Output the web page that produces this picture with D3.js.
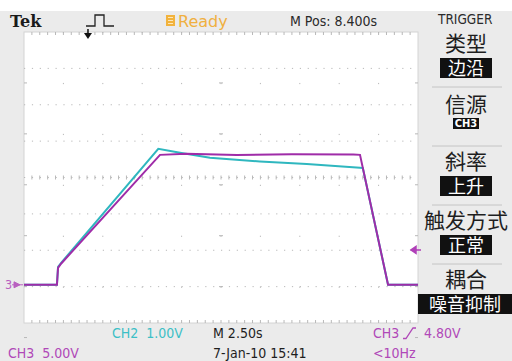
<!DOCTYPE html>
<html>
<head>
<meta charset="utf-8">
<script src="https://cdn.jsdelivr.net/npm/d3@7"></script>
<style>
body { margin: 0; background: #fff; }
svg { display: block; }
</style>
</head>
<body>
<div class="scope-container"></div>
<script>
// seconds from the left edge of the screen (10 div x 2.5 s) and volts
var ch3Time = [0, 2.09, 2.16, 2.35, 8.63, 10.3, 13.5, 17.0, 20.9, 21.32, 23.10, 25];
var ch3Volts = [0, 0, 2.34, 2.9, 17.86, 18.0, 17.85, 17.95, 17.9, 17.86, 0, 0];
var ch2Time = [0, 2.09, 2.16, 2.41, 8.52, 9.90, 11.80, 14.97, 17.94, 21.32, 21.50, 23.10, 25];
var ch2Volts = [0, 0, 0.49, 0.63, 3.74, 3.63, 3.49, 3.39, 3.32, 3.22, 3.21, 0, 0];

var ch3VoltsPerDiv = 5.0;
var ch2VoltsPerDiv = 1.0;
var groundDiv = -2.95;      // ground level of both channels, in divisions from centre
var triggerLevel = 4.80;    // CH3, volts
var triggerTime = 4.06;     // position of the trigger marker on the top edge

var menuTitles = ['类型', '信源', '斜率', '触发方式', '耦合'];
var menuValues = ['边沿', 'CH3', '上升', '正常', '噪音抑制'];

var scope = {
    draw: function () {
        this.defineComponents();
        this.addBackground();
        this.addGraticule();
        this.addTraces();
        this.addMarkers();
        this.addHeader();
        this.addMenu();
        this.addFooter();
    },
    defineComponents: function () {
        this.width = 512;
        this.height = 361;
        this.svg = d3.select('.scope-container')
            .append('svg')
            .attr('width', this.width)
            .attr('height', this.height);

        this.timeScale = d3.scaleLinear().domain([0, 25]).range([24, 418]);
        this.divScale = d3.scaleLinear().domain([-4, 4]).range([323, 32]);
        this.font = '"DejaVu Sans Condensed", "DejaVu Sans", sans-serif';
        this.cjk = '"Noto Sans CJK SC", sans-serif';
        this.cyan = '#2fb7bf';
        this.magenta = '#9f2ca8';
    },
    addBackground: function () {
        this.svg.append('rect')
            .attr('x', 0).attr('y', 11)
            .attr('width', this.width).attr('height', this.height - 11)
            .attr('fill', '#ebebeb');
        this.svg.append('rect')
            .attr('x', this.timeScale(0)).attr('y', this.divScale(4))
            .attr('width', this.timeScale(25) - this.timeScale(0))
            .attr('height', this.divScale(-4) - this.divScale(4))
            .attr('fill', '#ffffff')
            .attr('stroke', '#d4d4d4');
    },
    addGraticule: function () {
        var that = this;
        var x0 = this.timeScale(0), x1 = this.timeScale(25);
        var y0 = this.divScale(4), y1 = this.divScale(-4);
        var subX = (this.timeScale(2.5) - x0) / 5;
        var subY = (y1 - this.divScale(3)) / 5;
        var g = this.svg.append('g').attr('stroke', '#b8b8b8');

        // dotted division lines
        g.selectAll('.vgrid')
            .data(d3.range(2.5, 25, 2.5))
            .enter()
            .append('line')
            .attr('x1', function (d) { return that.timeScale(d); })
            .attr('x2', function (d) { return that.timeScale(d); })
            .attr('y1', y0).attr('y2', y1)
            .attr('stroke-dasharray', '1.2,' + (subY - 1.2));
        g.selectAll('.hgrid')
            .data(d3.range(-3, 4, 1))
            .enter()
            .append('line')
            .attr('x1', x0).attr('x2', x1)
            .attr('y1', function (d) { return that.divScale(d); })
            .attr('y2', function (d) { return that.divScale(d); })
            .attr('stroke-dasharray', '1.2,' + (subX - 1.2));

        // minor ticks on the centre lines and the border
        var xs = d3.range(1, 50).map(function (i) { return x0 + i * subX; });
        var ys = d3.range(1, 40).map(function (i) { return y0 + i * subY; });
        var cx = this.timeScale(12.5), cy = this.divScale(0);
        xs.forEach(function (x) {
            g.append('line').attr('x1', x).attr('x2', x).attr('y1', cy - 2).attr('y2', cy + 2);
            g.append('line').attr('x1', x).attr('x2', x).attr('y1', y0).attr('y2', y0 + 3);
            g.append('line').attr('x1', x).attr('x2', x).attr('y1', y1 - 3).attr('y2', y1);
        });
        ys.forEach(function (y) {
            g.append('line').attr('x1', cx - 2).attr('x2', cx + 2).attr('y1', y).attr('y2', y);
            g.append('line').attr('x1', x0).attr('x2', x0 + 3).attr('y1', y).attr('y2', y);
            g.append('line').attr('x1', x1 - 3).attr('x2', x1).attr('y1', y).attr('y2', y);
        });
    },
    addTraces: function () {
        var that = this;
        var ch2 = ch2Time.map(function (t, i) { return {t: t, v: ch2Volts[i] / ch2VoltsPerDiv + groundDiv}; });
        var ch3 = ch3Time.map(function (t, i) { return {t: t, v: ch3Volts[i] / ch3VoltsPerDiv + groundDiv}; });
        var line = d3.line()
            .x(function (d) { return that.timeScale(d.t); })
            .y(function (d) { return that.divScale(d.v); });

        this.svg.append('path')
            .datum(ch2)
            .attr('fill', 'none')
            .attr('stroke', this.cyan)
            .attr('stroke-width', 2)
            .attr('d', line);
        this.svg.append('path')
            .datum(ch3)
            .attr('fill', 'none')
            .attr('stroke', this.magenta)
            .attr('stroke-width', 2)
            .attr('d', line);
    },
    addMarkers: function () {
        // ground marker of CH3
        var gy = this.divScale(groundDiv);
        this.svg.append('text')
            .attr('x', 5).attr('y', gy + 4.5)
            .attr('font-family', this.font).attr('font-size', 12.5)
            .attr('fill', '#b860c0')
            .text('3');
        this.svg.append('path')
            .attr('d', 'M14,' + (gy - 3) + 'L20,' + gy + 'L14,' + (gy + 3) + 'Z M12,' + gy + 'H23')
            .attr('fill', '#b860c0').attr('stroke', '#b860c0').attr('stroke-width', 1);

        // trigger level on the right edge
        var ty = this.divScale(triggerLevel / ch3VoltsPerDiv + groundDiv);
        this.svg.append('path')
            .attr('d', 'M411,' + ty + 'L416,' + (ty - 3.5) + 'L416,' + (ty + 3.5) + 'Z M415,' + ty + 'H421')
            .attr('fill', '#b040b8').attr('stroke', '#b040b8').attr('stroke-width', 1.5);

        // trigger position on the top edge
        var tx = this.timeScale(triggerTime);
        this.svg.append('path')
            .attr('d', 'M' + tx + ',29V36')
            .attr('stroke', '#111').attr('stroke-width', 1.5);
        this.svg.append('path')
            .attr('d', 'M' + (tx - 4) + ',33L' + (tx + 4) + ',33L' + tx + ',39Z')
            .attr('fill', '#111');
    },
    addHeader: function () {
        this.svg.append('text')
            .attr('x', 10).attr('y', 27)
            .attr('font-family', '"DejaVu Serif", serif').attr('font-weight', 'bold')
            .attr('font-size', 16).attr('fill', '#1a1a1a')
            .text('Tek');
        this.svg.append('path')
            .attr('d', 'M86,26H95V15H104V26H114')
            .attr('fill', 'none').attr('stroke', '#222').attr('stroke-width', 1.3);

        this.svg.append('rect')
            .attr('x', 166).attr('y', 15).attr('width', 9).attr('height', 11)
            .attr('fill', '#f2b33d');
        this.svg.append('path')
            .attr('d', 'M168,17.5H173M168,20.5H173M168,23.5H173')
            .attr('stroke', '#fde7b8').attr('stroke-width', 1);
        this.svg.append('text')
            .attr('x', 178).attr('y', 27)
            .attr('font-family', '"DejaVu Sans", sans-serif').attr('font-size', 16)
            .attr('fill', '#f0b040')
            .text('Ready');
        this.svg.append('text')
            .attr('x', 290).attr('y', 26)
            .attr('font-family', this.font).attr('font-size', 14)
            .attr('fill', '#2a2a2a')
            .text('M Pos: 8.400s');
        this.svg.append('text')
            .attr('x', 438).attr('y', 23.5)
            .attr('font-family', this.font).attr('font-size', 13.5)
            .attr('fill', '#2a2a2a')
            .text('TRIGGER');
    },
    addMenu: function () {
        var that = this;
        var top = 28, step = 59, cx = 466;
        var titleOffset = [22.5, 25, 22.5, 22.5, 22.5];
        var g = this.svg.append('g');

        menuTitles.forEach(function (title, i) {
            var y = top + i * step;
            if (i > 0) {
                g.append('line')
                    .attr('x1', 432).attr('x2', 502)
                    .attr('y1', y).attr('y2', y)
                    .attr('stroke', '#c4c4c4');
            }
            g.append('text')
                .attr('x', cx).attr('y', y + titleOffset[i])
                .attr('text-anchor', 'middle')
                .attr('font-family', that.cjk).attr('font-size', 21)
                .attr('fill', '#1e1e1e')
                .text(title);

            var value = menuValues[i];
            var small = value === 'CH3';
            var fs = small ? 11 : 18;
            var w = small ? 26 : (value.length === 4 ? 94 : 52);
            var h = small ? 11 : 20;
            var bx = value.length === 4 ? 418 : cx - w / 2;
            var by = small ? y + 31 : y + 30;
            g.append('rect')
                .attr('x', bx).attr('y', by)
                .attr('width', w).attr('height', h)
                .attr('fill', '#111');
            g.append('text')
                .attr('x', bx + w / 2).attr('y', small ? by + h / 2 : by + h - 3)
                .attr('dy', small ? '0.36em' : 0)
                .attr('text-anchor', 'middle')
                .attr('font-family', small ? that.font : that.cjk)
                .attr('font-weight', small ? 'bold' : 'normal')
                .attr('font-size', fs)
                .attr('fill', '#ffffff')
                .text(value);
        });
    },
    addFooter: function () {
        var f = this.font;
        var put = function (svg, x, y, color, s) {
            svg.append('text')
                .attr('x', x).attr('y', y)
                .attr('font-family', f).attr('font-size', 14)
                .attr('fill', color)
                .style('white-space', 'pre')
                .text(s);
        };
        put(this.svg, 112, 338, '#3cbfc6', 'CH2  1.00V');
        put(this.svg, 8, 358, '#b048b8', 'CH3  5.00V');
        put(this.svg, 213, 338, '#1e1e1e', 'M 2.50s');
        put(this.svg, 213, 358, '#1e1e1e', '7-Jan-10 15:41');
        put(this.svg, 373, 338, '#b048b8', 'CH3');
        put(this.svg, 424, 338, '#b048b8', '4.80V');
        put(this.svg, 373, 358, '#b048b8', '<10Hz');
        // rising-edge symbol
        this.svg.append('path')
            .attr('d', 'M403,338.5H406L413,328H416')
            .attr('fill', 'none').attr('stroke', '#b048b8').attr('stroke-width', 1.3);
    }
};

scope.draw();
</script>
</body>
</html>
